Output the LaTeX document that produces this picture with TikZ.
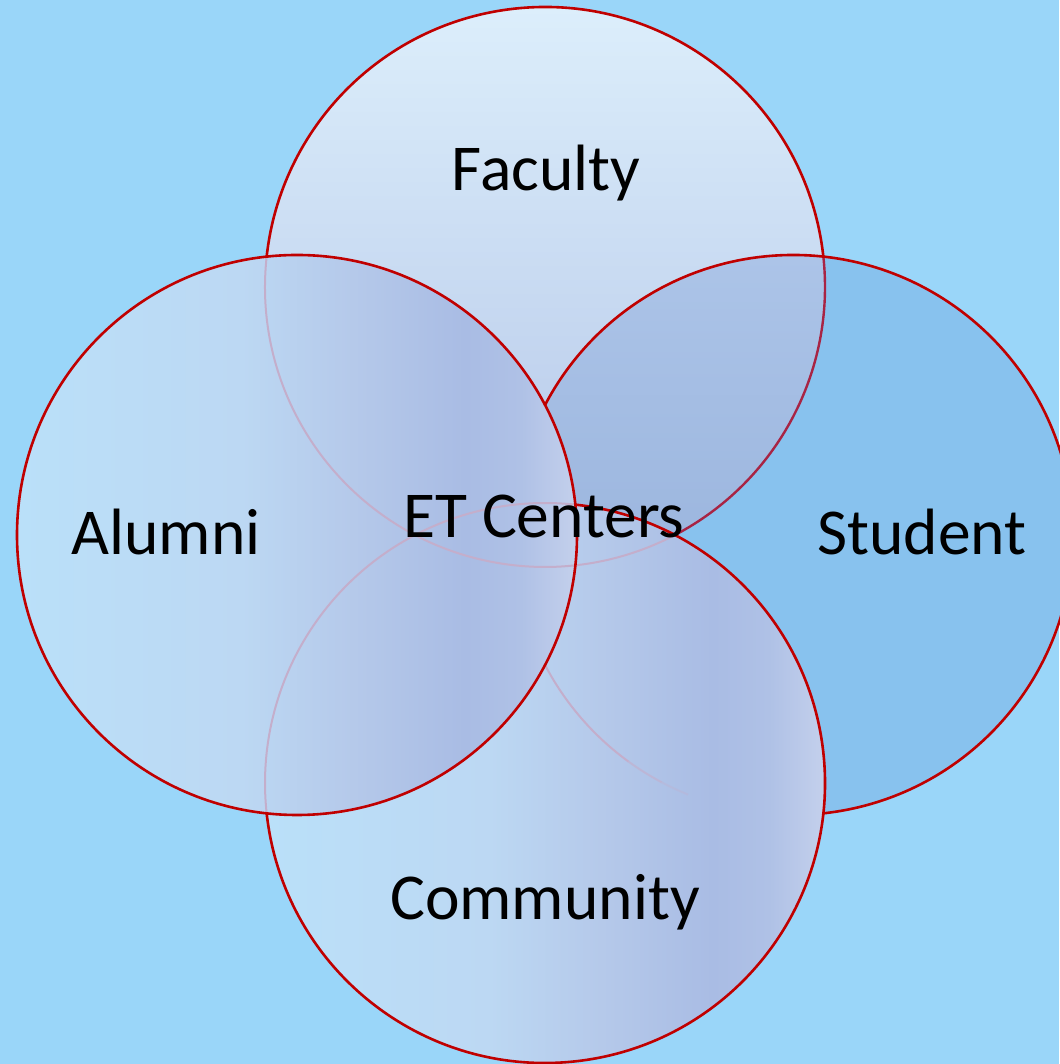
\documentclass[tikz,border=0pt]{standalone}
\usepackage{fontspec}
\setmainfont{Carlito}
\definecolor{bgc}{HTML}{9AD6F9}
\definecolor{stud}{HTML}{88C2EE}
\definecolor{redline}{HTML}{C00000}
\definecolor{darkline}{HTML}{A82444}
\definecolor{faintline}{HTML}{C4AECB}
\definecolor{ftop}{HTML}{DCEEFB}
\definecolor{fbot}{HTML}{B4C6E8}
\definecolor{fstop}{HTML}{ACC4E8}
\definecolor{fsbot}{HTML}{8EAAD6}
\definecolor{va}{HTML}{BAE0F9}
\definecolor{vb}{HTML}{BCD8F3}
\definecolor{vc}{HTML}{B5C9EA}
\definecolor{vd}{HTML}{A9BCE4}
\definecolor{ve}{HTML}{AFC1E6}
\definecolor{vf}{HTML}{C4D0EC}
\pgfdeclarehorizontalshading{vennshade}{100bp}{color(0bp)=(va); color(25bp)=(va); color(45bp)=(vb); color(55bp)=(vc); color(65bp)=(vd); color(70bp)=(ve); color(75bp)=(vf); color(100bp)=(vf)}
\tikzset{
  lbl/.style={font=\fontsize{65.5}{79}\selectfont, text=black, inner sep=0pt, anchor=base},
  brightline/.style={draw=redline, line width=2.6pt},
  midline/.style={draw=darkline, line width=2.4pt},
  softline/.style={draw=faintline, line width=2pt},
}
\begin{document}
\begin{tikzpicture}[x=1pt,y=1pt]
\useasboundingbox (0,0) rectangle (1059,1064);
\fill[bgc] (0,0) rectangle (1059,1064);
\coordinate (F) at (545,777);
\coordinate (S) at (793,529);
\coordinate (A) at (297,529);
\coordinate (C) at (545,281);
% fills
\shade[top color=ftop, bottom color=fbot] (F) circle (280pt);
\fill[stud] (S) circle (280pt);
\begin{scope}
  \clip (F) circle (280pt);
  \shade[top color=fstop, bottom color=fsbot] (S) circle (280pt);
\end{scope}
\shade[shading=vennshade] (C) circle (280pt);
\shade[shading=vennshade] (A) circle (280pt);
% faint outline parts
\draw[softline] (F) ++(173.84:280pt) arc[start angle=173.84, end angle=297.66, radius=280pt];
\draw[softline] (S) ++(207.66:280pt) arc[start angle=207.66, end angle=234, radius=280pt];
\draw[softline, draw opacity=0.6] (S) ++(234:280pt) arc[start angle=234, end angle=242, radius=280pt];
\draw[softline, draw opacity=0.3] (S) ++(242:280pt) arc[start angle=242, end angle=248, radius=280pt];
\draw[softline] (C) ++(83.84:280pt) arc[start angle=83.84, end angle=186.16, radius=280pt];
% darker outline part
\draw[midline] (F) ++(-62.34:280pt) arc[start angle=-62.34, end angle=6.16, radius=280pt];
% bright outline parts
\draw[brightline] (F) ++(6.16:280pt) arc[start angle=6.16, end angle=173.84, radius=280pt];
\draw[brightline] (S) ++(-83.84:280pt) arc[start angle=-83.84, end angle=152.34, radius=280pt];
\draw[brightline] (C) ++(186.16:280pt) arc[start angle=186.16, end angle=443.84, radius=280pt];
\draw[brightline] (A) circle (280pt);
% labels
\node[lbl] (faculty) at (546,873) {Faculty};
\node[lbl] (alumni) at (166,509) {Alumni};
\node[lbl] (student) at (922,509) {Student};
\node[lbl] (etc) at (544,526) {ET Centers};
\node[lbl] (community) at (545,144) {Community};
\end{tikzpicture}
\end{document}
